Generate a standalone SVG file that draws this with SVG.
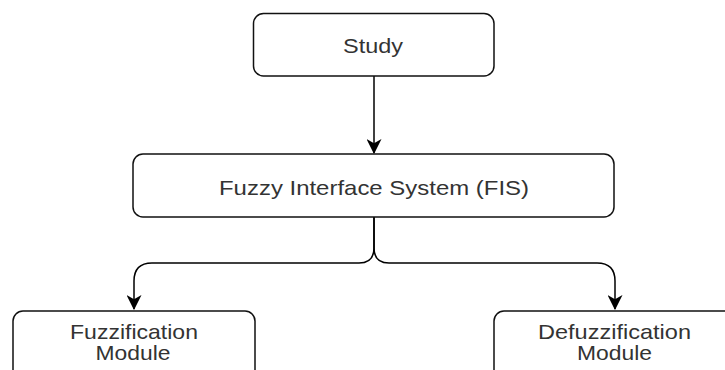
<svg xmlns="http://www.w3.org/2000/svg" width="725" height="370" viewBox="0 0 725 370">
<defs>
<style>
.box{fill:#fff;stroke:#111;stroke-width:1.5}
.lbl{font-family:"Liberation Sans",Arial,sans-serif;font-size:21px;fill:#333;text-anchor:middle}
.edge{fill:none;stroke:#000;stroke-width:1.5}
</style>
<marker id="arr" viewBox="0 0 14 14" refX="13" refY="7" markerWidth="15" markerHeight="15" markerUnits="userSpaceOnUse" orient="auto">
<path d="M0,0 L14,7 L0,14 L4,7 Z" fill="#000"/>
</marker>
</defs>
<rect width="725" height="370" fill="#fff"/>
<g id="connectors">
<path class="edge" d="M374,76 V153" marker-end="url(#arr)"/>
<path class="edge" d="M374,217 V248 Q374,263 359,263 H152 Q134,263 134,281 V309" marker-end="url(#arr)"/>
<path class="edge" d="M374,217 V248 Q374,263 389,263 H597 Q615,263 615,281 V309" marker-end="url(#arr)"/>
</g>
<g id="study">
<rect class="box" x="253.5" y="13.5" width="240.5" height="62.5" rx="10"/>
<text class="lbl" x="373" y="53" textLength="60" lengthAdjust="spacingAndGlyphs">Study</text>
</g>
<g id="fis">
<rect class="box" x="133" y="154" width="481" height="63" rx="10"/>
<text class="lbl" x="374" y="195" textLength="310" lengthAdjust="spacingAndGlyphs">Fuzzy Interface System (FIS)</text>
</g>
<g id="fuzzification">
<rect class="box" x="13" y="311" width="242" height="70" rx="10"/>
<text class="lbl" x="134" y="339" textLength="128" lengthAdjust="spacingAndGlyphs">Fuzzification</text>
<text class="lbl" x="133" y="360" textLength="75" lengthAdjust="spacingAndGlyphs">Module</text>
</g>
<g id="defuzzification">
<rect class="box" x="494" y="311" width="242" height="70" rx="10"/>
<text class="lbl" x="614.5" y="339" textLength="153" lengthAdjust="spacingAndGlyphs">Defuzzification</text>
<text class="lbl" x="614.5" y="360" textLength="75" lengthAdjust="spacingAndGlyphs">Module</text>
</g>
</svg>
